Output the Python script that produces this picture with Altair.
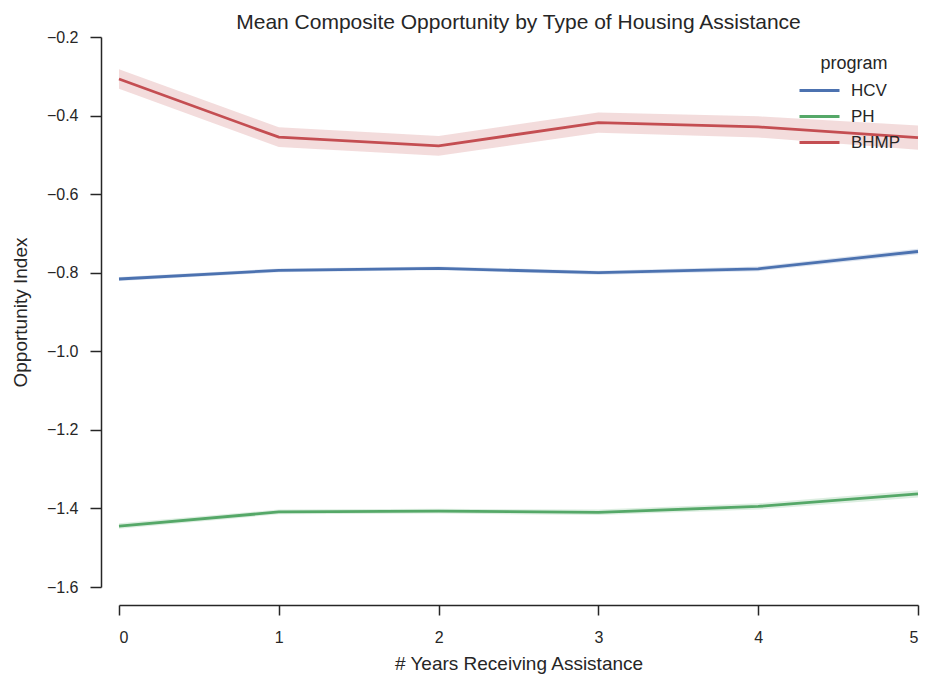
import altair as alt
import pandas as pd

years = [0, 1, 2, 3, 4, 5]
programs = ["HCV", "PH", "BHMP"]
colors = ["#4C72B0", "#55A868", "#C44E52"]

hcv_mean = [-0.816, -0.794, -0.789, -0.800, -0.790, -0.746]
hcv_err = [0.005, 0.005, 0.005, 0.005, 0.006, 0.007]
ph_mean = [-1.445, -1.409, -1.407, -1.410, -1.395, -1.363]
ph_err = [0.007, 0.006, 0.006, 0.007, 0.008, 0.009]
bhmp_mean = [-0.307, -0.455, -0.477, -0.418, -0.429, -0.456]
bhmp_err = [0.025, 0.025, 0.025, 0.026, 0.027, 0.031]

rows = []
for name, m, e in [("HCV", hcv_mean, hcv_err), ("PH", ph_mean, ph_err), ("BHMP", bhmp_mean, bhmp_err)]:
    for x, v, d in zip(years, m, e):
        rows.append({"years": x, "program": name, "mean": v, "lo": v - d, "hi": v + d})
df = pd.DataFrame(rows)

FONT = "Liberation Sans"
INK = "#262626"

color = alt.Color(
    "program:N",
    scale=alt.Scale(domain=programs, range=colors),
    legend=alt.Legend(
        title="program",
        orient="none",
        legendX=689,
        legendY=18,
        padding=0,
        symbolType="M-2,0L2,0",
        symbolSize=400,
        symbolStrokeWidth=3,
        symbolOpacity=1,
        symbolFillColor="transparent",
        labelFontSize=17,
        titleFontSize=18,
        titleFontWeight="normal",
        titleColor=INK,
        labelColor=INK,
        titleFont=FONT,
        labelFont=FONT,
        labelOffset=20,
        rowPadding=6,
        titleAnchor="middle",
        titlePadding=6,
    ),
)

x = alt.X(
    "years:Q",
    scale=alt.Scale(domain=[0, 5], nice=False, zero=False),
    axis=alt.Axis(
        title="# Years Receiving Assistance",
        values=years,
        format="d",
        offset=18,
        grid=False,
        tickSize=10,
        labelPadding=14,
        titlePadding=9,
    ),
)
y = alt.Y(
    "mean:Q",
    scale=alt.Scale(domain=[-1.6, -0.2], nice=False, zero=False),
    axis=alt.Axis(
        title="Opportunity Index",
        values=[-1.6, -1.4, -1.2, -1.0, -0.8, -0.6, -0.4, -0.2],
        labelExpr="replace(format(datum.value, '.1f'), '-', '\u2212')",
        offset=18,
        grid=False,
        tickSize=11,
        labelPadding=12,
        titlePadding=16,
    ),
)

band = alt.Chart(df).mark_area(opacity=0.2).encode(
    x=x, y=alt.Y("lo:Q"), y2="hi:Q", color=color
)
line = alt.Chart(df).mark_line(strokeWidth=2.8).encode(x=x, y=y, color=color)

chart = (
    alt.layer(band, line)
    .properties(
        width=799,
        height=550,
        title=alt.TitleParams(
            "Mean Composite Opportunity by Type of Housing Assistance",
            fontSize=21,
            font=FONT,
            fontWeight="normal",
            color=INK,
            anchor="middle",
            offset=-4,
        ),
        autosize=alt.AutoSizeParams(type="none"),
        padding={"left": 119, "top": 37, "right": 9, "bottom": 92},
    )
    .configure_view(stroke=None)
    .configure_axis(
        domainColor=INK,
        domainWidth=1.5,
        tickColor=INK,
        tickWidth=1.5,
        labelColor=INK,
        titleColor=INK,
        labelFont=FONT,
        titleFont=FONT,
        labelFontSize=16,
        titleFontSize=19,
        titleFontWeight="normal",
    )
)

chart.save("out.html", embed_options={"renderer": "svg", "actions": False})
